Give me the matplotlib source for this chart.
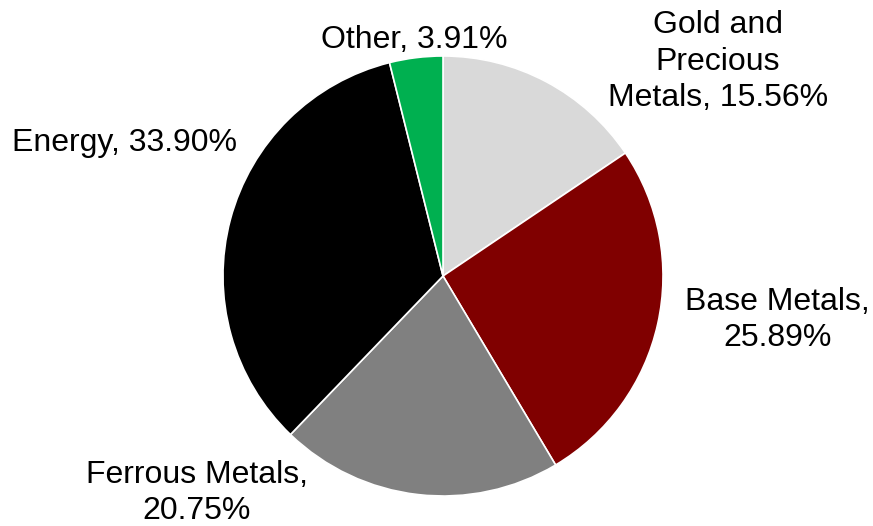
import matplotlib
matplotlib.use("Agg")
import matplotlib.pyplot as plt

plt.rcParams['font.family'] = ['Liberation Sans', 'DejaVu Sans']

# sector shares of the index
categories = ['Gold and\nPrecious\nMetals', 'Base Metals', 'Ferrous Metals', 'Energy', 'Other']
shares = [15.56, 25.89, 20.75, 33.90, 3.91]
separators = [', ', ',\n', ',\n', ', ', ', ']
colors = ['#d9d9d9', '#800000', '#808080', '#000000', '#00b050']

labels = [f'{name}{sep}{v:.2f}%' for name, sep, v in zip(categories, separators, shares)]

# where each label sits, in units of the pie radius
label_pos = [(1.25, 0.975), (1.52, -0.20), (-1.118, -0.985), (-1.45, 0.605), (-0.13, 1.075)]

fig = plt.figure(figsize=(8.73, 5.26), dpi=100)
ax = fig.add_axes([0, 0, 1, 1])

wedges, texts = ax.pie(shares, labels=labels, colors=colors, startangle=90,
                       counterclock=False, radius=1.0,
                       wedgeprops=dict(edgecolor='white', linewidth=1.2),
                       textprops=dict(fontsize=23, color='black'))

for t, (x, y) in zip(texts, label_pos):
    t.set_position((x, y))
    t.set_ha('center')
    t.set_va('center')
    t.set_multialignment('center')
    t.set_linespacing(1.27)

ax.set_aspect('equal')
ax.set_xlim(-443 / 220, (873 - 443) / 220)
ax.set_ylim(-250 / 220, 276 / 220)
ax.axis('off')

fig.savefig('out.png', dpi=100)
